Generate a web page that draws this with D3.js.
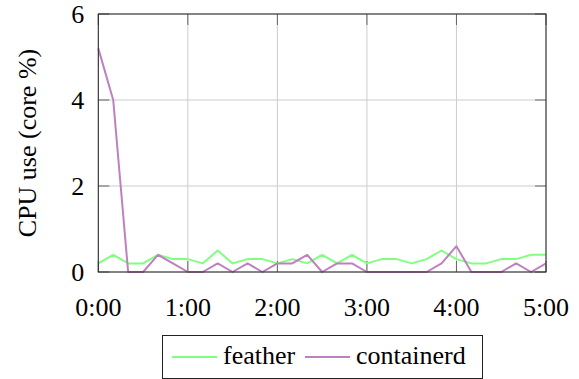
<!DOCTYPE html>
<html>
<head>
<meta charset="utf-8">
<script src="https://cdn.jsdelivr.net/npm/d3@7"></script>
</head>
<body style="margin:0">
<svg id="chart" width="579" height="379" font-family="Liberation Serif, Times New Roman, Tinos, serif"></svg>
<script>
// samples every 10 minutes, 0:00 .. 5:00
const minutes = d3.range(0, 301, 10);
const feather = [0.2, 0.4, 0.2, 0.2, 0.4, 0.3, 0.3, 0.2, 0.5, 0.2, 0.3, 0.3, 0.2, 0.3, 0.2, 0.4,
  0.2, 0.4, 0.2, 0.3, 0.3, 0.2, 0.3, 0.5, 0.3, 0.2, 0.2, 0.3, 0.3, 0.4, 0.4];
const containerd = [5.2, 4.0, 0, 0, 0.4, 0.2, 0, 0, 0.2, 0, 0.2, 0, 0.2, 0.2, 0.4, 0,
  0.2, 0.2, 0, 0, 0, 0, 0, 0.2, 0.6, 0, 0, 0, 0.2, 0, 0.2];
const xTicks = [0, 60, 120, 180, 240, 300];
const xTickLabels = ["0:00", "1:00", "2:00", "3:00", "4:00", "5:00"];
const yTicks = [0, 2, 4, 6];

const series = [
  { name: "feather", values: feather, color: "#80ff80" },
  { name: "containerd", values: containerd, color: "#bf80bf" }
];

const serifFont = "Liberation Serif, Times New Roman, Tinos, serif";
const pLeft = 98.3, pRight = 546, pTop = 14, pBottom = 272;
const svg = d3.select("#chart");

const x = d3.scaleLinear().domain([0, 300]).range([pLeft, pRight]);
const y = d3.scaleLinear().domain([0, 6]).range([pBottom, pTop]);

// grid
svg.append("g").selectAll("line").data(xTicks).enter().append("line")
  .attr("x1", d => x(d)).attr("x2", d => x(d))
  .attr("y1", pTop).attr("y2", pBottom)
  .attr("stroke", "#cccccc").attr("stroke-width", 1);
svg.append("g").selectAll("line").data(yTicks).enter().append("line")
  .attr("x1", pLeft).attr("x2", pRight)
  .attr("y1", d => y(d)).attr("y2", d => y(d))
  .attr("stroke", "#cccccc").attr("stroke-width", 1);

// inner ticks on all four sides
const tl = 11;
const ticks = svg.append("g").attr("stroke", "#666").attr("stroke-width", 1);
xTicks.forEach(t => {
  ticks.append("line").attr("x1", x(t)).attr("x2", x(t)).attr("y1", pTop).attr("y2", pTop + tl);
  ticks.append("line").attr("x1", x(t)).attr("x2", x(t)).attr("y1", pBottom).attr("y2", pBottom - tl);
});
yTicks.forEach(t => {
  ticks.append("line").attr("x1", pLeft).attr("x2", pLeft + tl).attr("y1", y(t)).attr("y2", y(t));
  ticks.append("line").attr("x1", pRight).attr("x2", pRight - tl).attr("y1", y(t)).attr("y2", y(t));
});

// lines
const line = d3.line().x((d, i) => x(minutes[i])).y(d => y(d));
series.forEach(s => {
  svg.append("path").datum(s.values)
    .attr("d", line)
    .attr("fill", "none")
    .attr("stroke", s.color)
    .attr("stroke-width", 2)
    .attr("stroke-linejoin", "round");
});

// frame
svg.append("rect")
  .attr("x", pLeft).attr("y", pTop)
  .attr("width", pRight - pLeft).attr("height", pBottom - pTop)
  .attr("fill", "none").attr("stroke", "#222").attr("stroke-width", 1);

// tick labels, placed by hand from the scales
svg.append("g").selectAll("text").data(xTicks).enter().append("text")
  .attr("x", d => x(d)).attr("y", 316)
  .attr("text-anchor", "middle")
  .attr("font-family", serifFont).attr("font-size", 26)
  .text((d, i) => xTickLabels[i]);

svg.append("g").selectAll("text").data(yTicks).enter().append("text")
  .attr("x", pLeft - 14).attr("y", d => y(d)).attr("dy", "0.34em")
  .attr("text-anchor", "end")
  .attr("font-family", serifFont).attr("font-size", 26)
  .text(d => d);

svg.append("text")
  .attr("transform", `translate(36,${(pTop + pBottom) / 2}) rotate(-90)`)
  .attr("text-anchor", "middle")
  .attr("font-family", serifFont).attr("font-size", 26)
  .text("CPU use (core %)");

// legend
const lg = svg.append("g");
lg.append("rect").attr("x", 162.5).attr("y", 335.5).attr("width", 320).attr("height", 43)
  .attr("fill", "#fff").attr("stroke", "#222").attr("stroke-width", 1);
const legendX = [172, 305];
series.forEach((s, i) => {
  lg.append("line").attr("x1", legendX[i]).attr("x2", legendX[i] + 45)
    .attr("y1", 357).attr("y2", 357)
    .attr("stroke", s.color).attr("stroke-width", 2);
  lg.append("text").attr("x", legendX[i] + 51).attr("y", 364)
    .attr("font-family", serifFont).attr("font-size", 26).text(s.name);
});
</script>
</body>
</html>
